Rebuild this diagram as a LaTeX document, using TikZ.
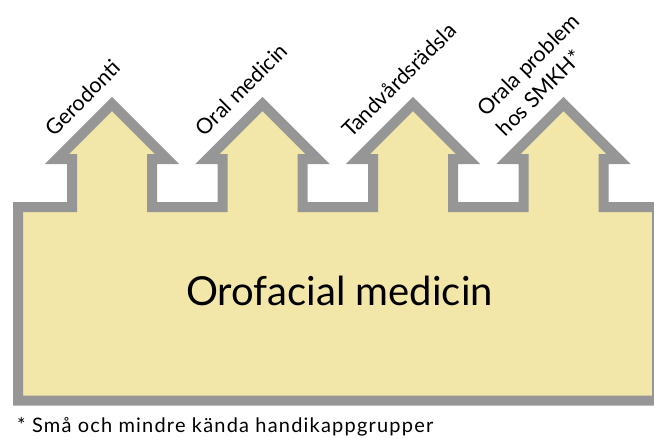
\documentclass[tikz,border=0pt]{standalone}
\usepackage{fontspec}
\setmainfont{Lato}
\newfontfamily\notefont[LetterSpace=6]{Lato}
\definecolor{rimgray}{RGB}{150,150,150}
\definecolor{bodyyellow}{RGB}{242,230,168}
\begin{document}
\begin{tikzpicture}[x=1pt,y=-1pt,
  rim/.style={draw=rimgray, fill=bodyyellow, line width=10pt, line join=miter},
  lbl/.style={rotate=45, anchor=base west, inner sep=0pt, font=\fontsize{21.5}{25}\selectfont},
  mainlbl/.style={anchor=base, inner sep=0pt, font=\fontsize{40}{48}\selectfont},
  notelbl/.style={anchor=base west, inner sep=0pt, font=\notefont\fontsize{20}{24}\selectfont}]
\useasboundingbox (0,0) rectangle (654,439);
\begin{scope}
\clip (0,0) rectangle (654,439);
\draw[rim] (18,400.5) -- (18,207)
  -- (72,207) -- (72,159) -- (57,159) -- (112,104) -- (167,159) -- (152,159) -- (152,207)
  -- (222.5,207) -- (222.5,159) -- (207.5,159) -- (262.5,104) -- (317.5,159) -- (302.5,159) -- (302.5,207)
  -- (373,207) -- (373,159) -- (358,159) -- (413,104) -- (468,159) -- (453,159) -- (453,207)
  -- (523.5,207) -- (523.5,159) -- (508.5,159) -- (563.5,104) -- (618.5,159) -- (603.5,159) -- (603.5,207)
  -- (657,207) -- (657,400.5) -- cycle;
\end{scope}
\node[lbl] (l1) at (54,137.5) {Gerodonti};
\node[lbl] (l2) at (204.5,137.5) {Oral medicin};
\node[lbl] (l3) at (351,139) {Tandvårdsrädsla};
\node[lbl] (l4a) at (486,118) {Orala problem};
\node[lbl] (l4b) at (505.5,137.5) {hos SMKH*};
\node[mainlbl] (main) at (339.5,305) {Orofacial medicin};
\node[notelbl] (note) at (17,432) {* Små och mindre kända handikappgrupper};
\end{tikzpicture}
\end{document}
